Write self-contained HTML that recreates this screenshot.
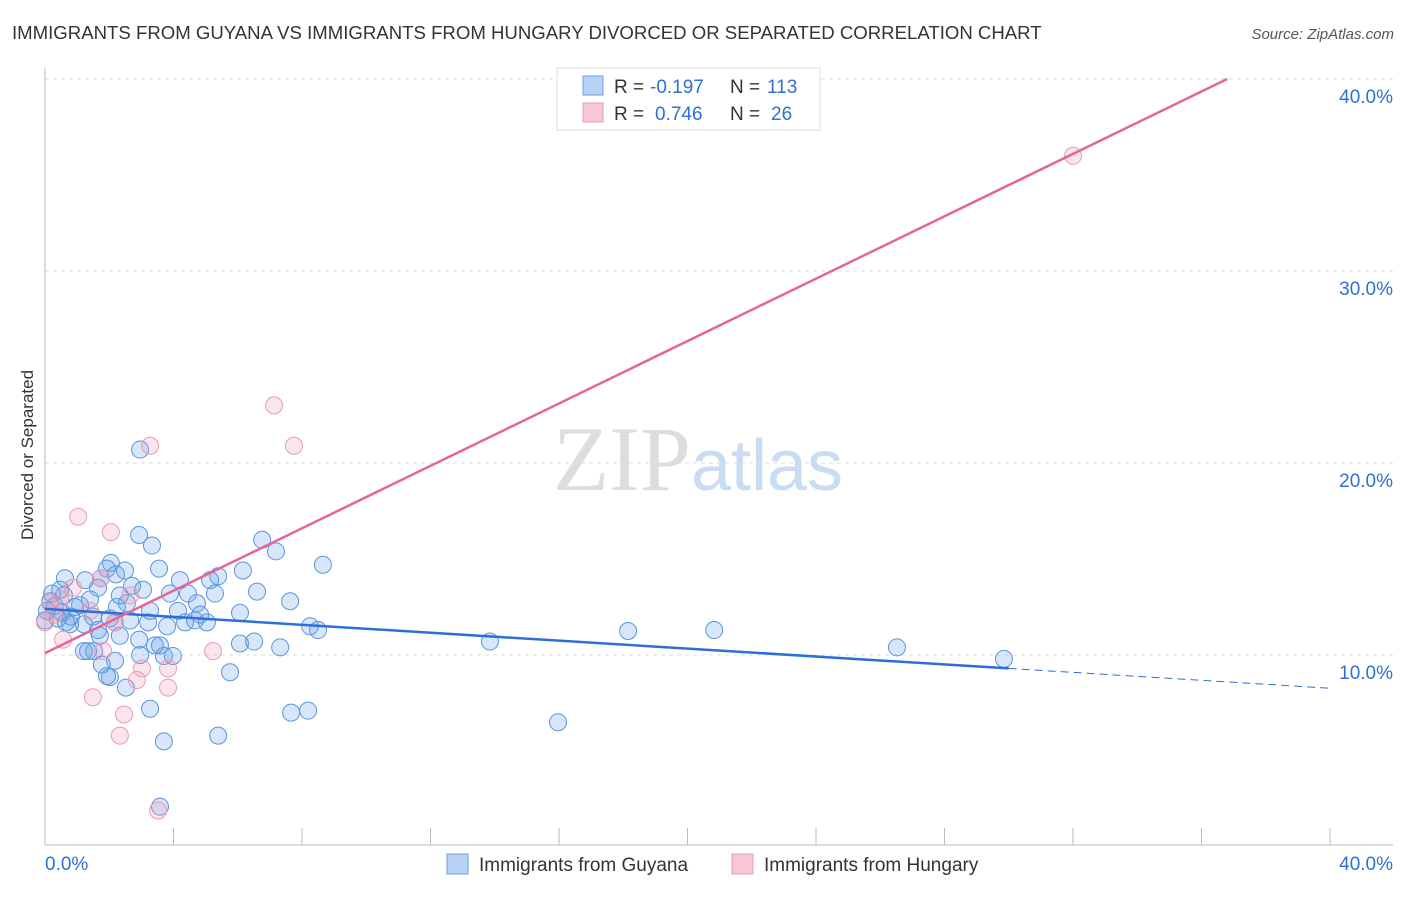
<!DOCTYPE html>
<html><head><meta charset="utf-8"><style>
body{margin:0;background:#fff;font-family:"Liberation Sans",sans-serif}
</style></head><body>
<svg width="1406" height="892" xmlns="http://www.w3.org/2000/svg" font-family="Liberation Sans, sans-serif">
<text x="12" y="39" font-size="18.6" fill="#333">IMMIGRANTS FROM GUYANA VS IMMIGRANTS FROM HUNGARY DIVORCED OR SEPARATED CORRELATION CHART</text>
<text x="1394" y="39" font-size="15" fill="#555" font-style="italic" text-anchor="end">Source: ZipAtlas.com</text>
<text x="698" y="490" font-size="92" text-anchor="middle" fill="#ddd" font-family="Liberation Serif, serif">ZIP<tspan fill="#c8dcf2" font-family="Liberation Sans, sans-serif" font-size="72">atlas</tspan></text>
<g id="grid"></g><g id="axes"></g><g id="pts"></g><g id="lines"></g>
<text transform="translate(33,455) rotate(-90)" font-size="17" fill="#333" text-anchor="middle">Divorced or Separated</text>
<g font-size="19">
<rect x="557" y="68" width="263" height="62" fill="#fff" stroke="#ddd"/>
<rect x="583" y="76" width="20" height="19" fill="#b7d2f5" stroke="#6a9fe0"/>
<rect x="583" y="103" width="20" height="19" fill="#f8c6d5" stroke="#eb9ab5"/>
<text x="614" y="93" fill="#333">R =</text><text x="650" y="93" fill="#2f6fd6">-0.197</text>
<text x="730" y="93" fill="#333">N =</text><text x="767" y="93" fill="#2f6fd6">113</text>
<text x="614" y="120" fill="#333">R =</text><text x="655" y="120" fill="#2f6fd6">0.746</text>
<text x="730" y="120" fill="#333">N =</text><text x="771" y="120" fill="#2f6fd6">26</text>
</g>
<g>
<rect x="447" y="854" width="21" height="20" fill="#b7d2f5" stroke="#6a9fe0"/>
<text x="479" y="871" font-size="19" fill="#333">Immigrants from Guyana</text>
<rect x="732" y="854" width="21" height="20" fill="#f8c6d5" stroke="#eb9ab5"/>
<text x="764" y="871" font-size="19" fill="#333">Immigrants from Hungary</text>
</g>
</svg>
<script>
const yTicks=[10,20,30,40];
const yTickLabels=["10.0%","20.0%","30.0%","40.0%"];
const xTickLabels=["0.0%","40.0%"];
const blueX=[2.96,2.93,3.33,6.76,7.19,8.65,2.05,1.93,2.49,2.21,3.55,6.16,5.39,5.14,4.2,0.62,1.74,2.71,3.05,6.6,3.89,5.29,4.45,1.65,0.47,0.22,7.63,4.73,2.55,2.24,1.09,1.4,6.07,4.14,2.65,3.21,4.36,4.67,5.04,3.8,2.18,1.49,0.81,0.65,0.4,8.25,8.5,13.85,18.15,20.83,6.07,6.51,7.32,2.33,2.93,3.42,3.58,1.71,1.21,1.53,1.34,3.7,3.98,5.76,1.77,2.02,1.93,2.52,3.27,7.66,8.19,3.7,5.39,15.97,26.52,29.85,3.58,0.16,0.31,0.06,0.53,0.93,1.21,1.65,0.78,0,2.33,3.27,4.83,2.02,1.25,0.59,2.96,2.18];
const blueY=[20.7,16.25,15.7,16.0,15.4,14.7,14.8,14.5,14.4,14.2,14.5,14.4,14.1,13.9,13.9,14.0,14.0,13.6,13.4,13.3,13.2,13.2,13.2,13.5,13.4,13.2,12.8,12.7,12.7,12.5,12.6,12.9,12.2,12.3,11.8,11.7,11.7,11.8,11.7,11.5,11.7,12.0,12.0,11.7,11.9,11.5,11.3,10.7,11.25,11.3,10.6,10.7,10.4,11.0,10.8,10.5,10.5,11.0,10.2,10.2,10.2,9.95,9.95,9.1,9.5,8.85,8.9,8.3,7.2,7.0,7.1,5.5,5.8,6.5,10.4,9.8,2.1,12.8,12.55,12.3,12.2,12.5,11.6,11.3,11.6,11.8,13.1,12.3,12.1,11.9,13.9,13.1,10.0,9.7];
const pinkX=[32.0,7.13,3.27,7.75,1.03,2.05,1.74,0.87,2.65,2.18,0.28,0,0.56,1.81,5.23,3.83,3.02,2.86,3.83,1.49,2.46,2.33,3.52,0.47,1.4,0.16];
const pinkY=[36.0,23.0,20.9,20.9,17.2,16.4,14.0,13.5,13.1,11.7,12.1,11.7,10.8,10.2,10.2,9.3,9.3,8.7,8.3,7.8,6.9,5.8,1.9,12.9,12.3,12.7];
const blueTrend=[12.4,-0.1033]; // intercept, slope
const pinkTrend=[10.1,0.8125];
const NS="http://www.w3.org/2000/svg";
const X0=45,X1=1330,Y0=847,PY=19.2;
const sx=v=>X0+(X1-X0)*v/40, sy=v=>Y0-v*PY;
function mk(t,a,p){const e=document.createElementNS(NS,t);for(const k in a)e.setAttribute(k,a[k]);document.getElementById(p).appendChild(e);return e;}
yTicks.forEach((t,i)=>{
 const l=mk('line',{x1:45,x2:1393,y1:sy(t),y2:sy(t),stroke:'#ddd','stroke-dasharray':'4,4'},'grid');
 
 
 const tx=mk('text',{x:1393,y:sy(t)+24,'font-size':19,fill:'#2f6fd6','text-anchor':'end'},'grid');
 tx.textContent=yTickLabels[i];
 
 
});
mk('line',{x1:45,x2:45,y1:68,y2:845,stroke:'#bbb'},'axes');
mk('line',{x1:45,x2:1393,y1:845,y2:845,stroke:'#bbb'},'axes');
for(let i=0;i<=10;i++){mk('line',{x1:sx(i*4),x2:sx(i*4),y1:828,y2:845,stroke:'#bbb'},'axes');}
[[0,45,'start'],[1,1393,'end']].forEach(([i,x,a])=>{const t=mk('text',{x:x,y:870,'font-size':19,fill:'#2f6fd6','text-anchor':a},'axes');t.textContent=xTickLabels[i];
 
 });
blueX.forEach((v,i)=>{const c=mk('circle',{cx:sx(v),cy:sy(blueY[i]),r:8.5,fill:'rgba(110,165,230,0.28)',stroke:'#5b95de','stroke-width':1},'pts');
 
 });
pinkX.forEach((v,i)=>{const c=mk('circle',{cx:sx(v),cy:sy(pinkY[i]),r:8.5,fill:'rgba(240,150,180,0.25)',stroke:'#eb9ab5','stroke-width':1},'pts');
 
 });
const bt=x=>blueTrend[0]+blueTrend[1]*x, pt=x=>pinkTrend[0]+pinkTrend[1]*x;
let l=mk('line',{x1:sx(0),y1:sy(bt(0)),x2:sx(30),y2:sy(bt(30)),stroke:'#2d6fd6','stroke-width':2.5},'lines');


l=mk('line',{x1:sx(30),y1:sy(bt(30)),x2:sx(40),y2:sy(bt(40)),stroke:'#2d6fd6','stroke-width':1,'stroke-dasharray':'8,5'},'lines');


const xe=(40-pinkTrend[0])/pinkTrend[1];
l=mk('line',{x1:sx(0),y1:sy(pt(0)),x2:sx(xe),y2:sy(40),stroke:'#e5659a','stroke-width':2.5},'lines');


</script>
</body></html>
